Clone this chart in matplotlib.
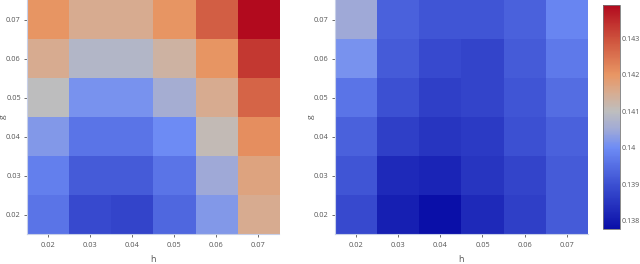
import numpy as np
import matplotlib.pyplot as plt
from matplotlib.colors import LinearSegmentedColormap

h_vals = [0.02, 0.03, 0.04, 0.05, 0.06, 0.07]
g_vals = [0.02, 0.03, 0.04, 0.05, 0.06, 0.07]

# rows: g = 0.02 ... 0.07, columns: h = 0.02 ... 0.07
left_vals = [
    [0.1396, 0.1389, 0.1388, 0.1394, 0.1402, 0.1415],
    [0.1398, 0.1392, 0.1392, 0.1396, 0.1405, 0.1417],
    [0.1402, 0.1396, 0.1396, 0.1400, 0.1411, 0.1421],
    [0.1410, 0.1401, 0.1401, 0.1406, 0.1415, 0.1427],
    [0.1415, 0.1408, 0.1408, 0.1413, 0.1420, 0.1433],
    [0.1420, 0.1415, 0.1415, 0.1420, 0.1428, 0.1439],
]
right_vals = [
    [0.1389, 0.1381, 0.1378, 0.1383, 0.1387, 0.1392],
    [0.1391, 0.1383, 0.1382, 0.1385, 0.1388, 0.1392],
    [0.1393, 0.1387, 0.1385, 0.1386, 0.1390, 0.1393],
    [0.1396, 0.1390, 0.1387, 0.1388, 0.1391, 0.1395],
    [0.1401, 0.1392, 0.1389, 0.1388, 0.1392, 0.1397],
    [0.1405, 0.1393, 0.1391, 0.1391, 0.1393, 0.1399],
]

cbar_ticks = [0.138, 0.139, 0.14, 0.141, 0.142, 0.143]
vmin, vmax = 0.13778, 0.1439

# colour anchors
anchors = [
    (vmin, (10, 15, 168)),
    (0.1390, (60, 80, 210)),
    (0.1400, (110, 140, 245)),
    (0.1405, (160, 170, 215)),
    (0.1410, (190, 190, 190)),
    (0.1415, (215, 172, 145)),
    (0.1420, (232, 150, 100)),
    (0.1430, (205, 80, 60)),
    (vmax, (178, 10, 30)),
]
cmap = LinearSegmentedColormap.from_list(
    "custom",
    [((v - vmin) / (vmax - vmin), tuple(c / 255 for c in rgb)) for v, rgb in anchors],
)

plt.rcParams["font.family"] = "Open Sans"
txt = "#555555"

fig = plt.figure(figsize=(6.4, 2.64), dpi=100)
ax1 = fig.add_axes([0.0422, 0.1136, 0.394, 0.886])
ax2 = fig.add_axes([0.5234, 0.1136, 0.395, 0.886])
cax = fig.add_axes([0.9425, 0.1326, 0.0266, 0.848])

for ax, data in [(ax1, left_vals), (ax2, right_vals)]:
    im = ax.imshow(
        np.array(data), cmap=cmap, vmin=vmin, vmax=vmax, origin="lower",
        aspect="auto", extent=[0.015, 0.075, 0.015, 0.075], interpolation="nearest",
    )
    ax.set_xticks(h_vals)
    ax.set_yticks(g_vals)
    ax.set_xticklabels([str(v) for v in h_vals])
    ax.set_yticklabels([str(v) for v in g_vals])
    ax.tick_params(labelsize=5.3, colors=txt, length=2.5, width=0.6, pad=2)
    ax.tick_params(axis="x", pad=3)
    ax.set_xlabel("h", fontsize=6.5, color=txt)
    ax.set_ylabel("g", fontsize=6, color=txt)
    ax.xaxis.set_label_coords(0.5, -0.09)
    ax.yaxis.set_label_coords(-0.08, 0.5)
    for s in ["top", "right"]:
        ax.spines[s].set_visible(False)
    for s in ["left", "bottom"]:
        ax.spines[s].set_color("#c8d0e8")
        ax.spines[s].set_linewidth(0.8)

cb = fig.colorbar(im, cax=cax)
cb.set_ticks(cbar_ticks)
cb.set_ticklabels([f"{t:g}" for t in cbar_ticks])
cb.ax.tick_params(labelsize=5.1, colors=txt, length=0, pad=1)
cb.outline.set_edgecolor("#777777")
cb.outline.set_linewidth(0.6)

fig.savefig("out.png", dpi=100)
